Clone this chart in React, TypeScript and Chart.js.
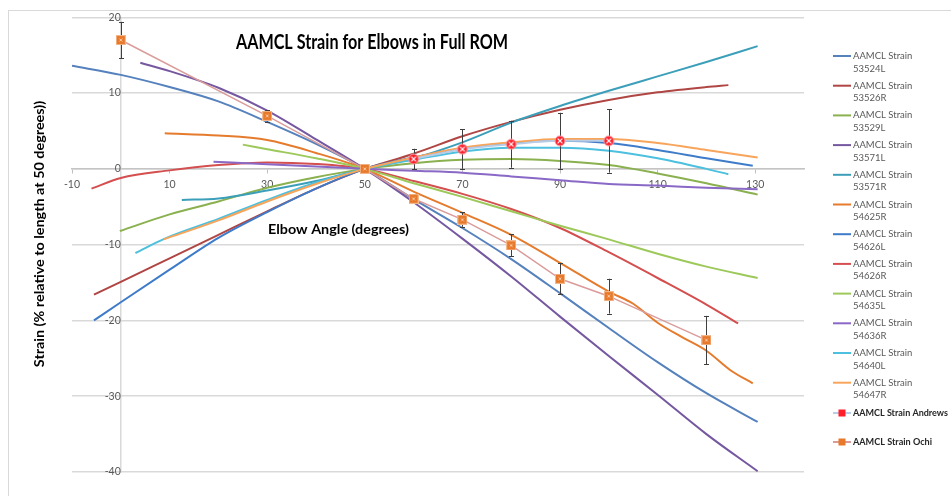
import React, { useEffect, useRef } from 'react';
import { Chart, registerables } from 'chart.js';

Chart.register(...registerables);

// ---- axis ticks ----
const xTicks = [-10, 10, 30, 50, 70, 90, 110, 130];
const yTicks = [-40, -30, -20, -10, 0, 10, 20];

// ---- series (angle in degrees, strain in %) ----
const s53524L_x = [-10, 0, 10, 20, 30, 40, 50, 60, 70, 80, 90, 100, 110, 120, 130.5];
const s53524L_y = [13.6, 12.4, 10.8, 8.9, 6.2, 3.3, 0, -4.0, -7.8, -11.9, -16.4, -21.0, -25.5, -29.6, -33.4];

const s53526R_x = [-5.5, 0, 10, 20, 30, 40, 50, 60, 70, 80, 90, 100, 110, 120, 124.5];
const s53526R_y = [-16.6, -14.9, -11.8, -8.7, -5.6, -2.6, 0, 2.0, 4.3, 6.2, 7.8, 9.1, 10.1, 10.8, 11.05];

const s53529L_x = [-0.2, 10, 20, 30, 40, 50, 60, 70, 80, 90, 100, 110, 120, 130.5];
const s53529L_y = [-8.2, -6.0, -4.3, -2.5, -1.1, 0, 0.75, 1.2, 1.3, 1.05, 0.5, -0.6, -1.9, -3.4];

const s53571L_x = [4, 10, 20, 30, 40, 50, 60, 70, 80, 90, 100, 110, 120, 130.5];
const s53571L_y = [14.0, 12.9, 10.7, 7.7, 3.9, 0, -4.4, -9.2, -14.2, -19.5, -24.7, -29.8, -35.0, -39.9];

const s53571R_x = [12.5, 20, 30, 40, 50, 60, 70, 80, 90, 100, 110, 120, 130.5];
const s53571R_y = [-4.1, -3.9, -2.85, -1.6, 0, 1.4, 3.5, 6.1, 8.3, 10.3, 12.2, 14.1, 16.2];

const s54625R_x = [9, 20, 30, 40, 50, 60, 70, 80, 90, 100, 105, 110, 115, 120, 125, 129.5];
const s54625R_y = [4.7, 4.4, 3.8, 2.1, 0, -3.0, -5.8, -8.7, -12.4, -16.2, -17.8, -20.3, -22.2, -24.0, -26.6, -28.3];

const s54626L_x = [-5.5, 0, 10, 20, 30, 40, 50, 60, 70, 80, 90, 100, 110, 120, 129.5];
const s54626L_y = [-20, -17.6, -13.3, -9.1, -5.7, -2.6, 0, 1.5, 2.7, 3.4, 3.7, 3.4, 2.5, 1.4, 0.4];

const s54626R_x = [-6, 0, 10, 20, 30, 40, 50, 60, 70, 80, 90, 100, 110, 120, 126.5];
const s54626R_y = [-2.6, -1.2, -0.2, 0.5, 0.85, 0.65, 0, -1.6, -3.3, -5.3, -7.8, -11.0, -14.4, -17.9, -20.4];

const s54635L_x = [25, 30, 40, 50, 60, 70, 80, 90, 100, 110, 120, 130.5];
const s54635L_y = [3.2, 2.6, 1.4, 0, -1.9, -3.7, -5.6, -7.5, -9.3, -11.2, -12.9, -14.4];

const s54636R_x = [19, 30, 40, 50, 60, 70, 80, 90, 100, 110, 120, 130.5];
const s54636R_y = [0.95, 0.6, 0.3, 0, -0.25, -0.5, -1.0, -1.5, -2.0, -2.2, -2.5, -2.7];

const s54640L_x = [3, 9, 20, 30, 40, 50, 60, 70, 80, 90, 100, 110, 120, 124.5];
const s54640L_y = [-11.1, -9.2, -6.6, -4.1, -1.8, 0, 1.2, 2.3, 2.8, 2.8, 2.4, 1.4, 0, -0.7];

const s54647R_x = [8.8, 20, 30, 40, 50, 60, 70, 80, 90, 100, 110, 120, 130.5];
const s54647R_y = [-9.3, -6.8, -4.3, -2.0, 0, 1.5, 2.8, 3.5, 3.95, 3.95, 3.4, 2.5, 1.5];

const andrews_x = [60, 70, 80, 90, 100];
const andrews_y = [1.3, 2.6, 3.25, 3.7, 3.7];
const andrews_err = [1.35, 2.6, 3.1, 3.7, 4.2];

const ochi_x = [0, 30, 50, 60, 70, 80, 90, 100, 120];
const ochi_y = [17, 7, 0, -3.95, -6.7, -10.1, -14.5, -16.8, -22.6];
const ochi_err = [2.4, 0.75, 0, 0.4, 0.95, 1.45, 2.05, 2.3, 3.2];

const seriesNames = ['53524L', '53526R', '53529L', '53571L', '53571R', '54625R', '54626L', '54626R', '54635L', '54636R', '54640L', '54647R'];
const seriesX = [s53524L_x, s53526R_x, s53529L_x, s53571L_x, s53571R_x, s54625R_x, s54626L_x, s54626R_x, s54635L_x, s54636R_x, s54640L_x, s54647R_x];
const seriesY = [s53524L_y, s53526R_y, s53529L_y, s53571L_y, s53571R_y, s54625R_y, s54626L_y, s54626R_y, s54635L_y, s54636R_y, s54640L_y, s54647R_y];
const seriesColors = ['#5581BD', '#B04644', '#8AB04F', '#7558A0', '#3C9FBA', '#E57B2D', '#3E7CC9', '#D44F4F', '#9DC95B', '#8A68C6', '#4CC0DE', '#F8A55C'];

const andrewsLine = '#B8CCE8';
const ochiLine = '#DA9C9B';

const FONT = 'Lato, "Open Sans", "DejaVu Sans", sans-serif';

function pts(xs: number[], ys: number[]) {
  return xs.map((x, i) => ({ x, y: ys[i] }));
}

function makeAndrewsMarker() {
  const c = document.createElement('canvas');
  c.width = 12; c.height = 12;
  const g = c.getContext('2d')!;
  g.fillStyle = '#FF1E2A';
  g.strokeStyle = '#F5A3A8';
  g.lineWidth = 1;
  g.beginPath();
  g.arc(6, 6, 5, 0, Math.PI * 2);
  g.fill();
  g.stroke();
  g.strokeStyle = '#FFFFFF';
  g.lineWidth = 1.2;
  g.beginPath();
  g.moveTo(3.6, 3.6); g.lineTo(8.4, 8.4);
  g.moveTo(8.4, 3.6); g.lineTo(3.6, 8.4);
  g.stroke();
  return c;
}

function makeOchiMarker() {
  const c = document.createElement('canvas');
  c.width = 10; c.height = 10;
  const g = c.getContext('2d')!;
  g.fillStyle = '#E8792B';
  g.fillRect(0.5, 0.5, 9, 9);
  g.strokeStyle = '#F2B78A';
  g.lineWidth = 1;
  g.strokeRect(0.5, 0.5, 9, 9);
  g.strokeStyle = '#F8D2B2';
  g.lineWidth = 0.9;
  g.beginPath();
  g.moveTo(3.5, 3.5); g.lineTo(6.5, 6.5);
  g.moveTo(6.5, 3.5); g.lineTo(3.5, 6.5);
  g.stroke();
  return c;
}

function fitText(ctx: CanvasRenderingContext2D, text: string, x: number, y: number, font: string, width: number, color: string, rotate = 0, align: CanvasTextAlign = 'center') {
  ctx.save();
  ctx.font = font;
  const w = ctx.measureText(text).width;
  let s = width / w;
  if (s > 1.15) s = 1.15;
  if (s < 0.7) s = 0.7;
  ctx.translate(x, y);
  if (rotate) ctx.rotate(rotate);
  ctx.scale(s, 1);
  ctx.fillStyle = color;
  ctx.textAlign = align;
  ctx.textBaseline = 'middle';
  ctx.fillText(text, 0, 0);
  ctx.restore();
}

export default function App() {
  const ref = useRef<HTMLCanvasElement | null>(null);

  useEffect(() => {
    if (!ref.current) return;
    const andrewsMarker = makeAndrewsMarker();
    const ochiMarker = makeOchiMarker();

    const datasets: any[] = seriesNames.map((name, i) => ({
      label: 'AAMCL Strain ' + name,
      data: pts(seriesX[i], seriesY[i]),
      borderColor: seriesColors[i],
      backgroundColor: seriesColors[i],
      borderWidth: 2,
      pointRadius: 0,
      cubicInterpolationMode: 'monotone',
      fill: false,
      order: 20 - i,
    }));
    datasets.push({
      label: 'AAMCL Strain Andrews',
      data: pts(andrews_x, andrews_y),
      borderColor: andrewsLine,
      backgroundColor: '#FF1E2A',
      borderWidth: 2,
      pointStyle: andrewsMarker,
      pointRadius: 6,
      cubicInterpolationMode: 'monotone',
      fill: false,
      order: 1,
    });
    datasets.push({
      label: 'AAMCL Strain Ochi',
      data: pts(ochi_x, ochi_y),
      borderColor: ochiLine,
      backgroundColor: '#E8792B',
      borderWidth: 1.5,
      pointStyle: ochiMarker,
      pointRadius: 5,
      tension: 0,
      fill: false,
      order: 0,
    });

    const errs: Record<number, number[]> = { 12: andrews_err, 13: ochi_err };

    const drawPlugin = {
      id: 'excelExtras',
      beforeDraw(chart: any) {
        const ctx = chart.ctx as CanvasRenderingContext2D;
        ctx.save();
        ctx.fillStyle = '#FFFFFF';
        ctx.fillRect(0, 0, chart.width, chart.height);
        ctx.strokeStyle = '#D9D9D9';
        ctx.lineWidth = 1;
        ctx.strokeRect(8.5, 10.5, chart.width + 20, chart.height + 20);
        ctx.restore();
      },
      beforeDatasetDraw(chart: any, args: any) {
        const e = errs[args.index];
        if (!e) return;
        const ds = chart.data.datasets[args.index];
        const xs = chart.scales.x;
        const ys = chart.scales.y;
        const ctx = chart.ctx as CanvasRenderingContext2D;
        ctx.save();
        ctx.strokeStyle = '#3F3F3F';
        ctx.lineWidth = 1;
        ds.data.forEach((p: any, i: number) => {
          if (!e[i]) return;
          const px = Math.round(xs.getPixelForValue(p.x)) + 0.5;
          const top = ys.getPixelForValue(p.y + e[i]);
          const bot = ys.getPixelForValue(p.y - e[i]);
          ctx.beginPath();
          ctx.moveTo(px, top); ctx.lineTo(px, bot);
          ctx.moveTo(px - 2.5, Math.round(top) + 0.5); ctx.lineTo(px + 2.5, Math.round(top) + 0.5);
          ctx.moveTo(px - 2.5, Math.round(bot) + 0.5); ctx.lineTo(px + 2.5, Math.round(bot) + 0.5);
          ctx.stroke();
        });
        ctx.restore();
      },
      afterDraw(chart: any) {
        const ctx = chart.ctx as CanvasRenderingContext2D;
        fitText(ctx, 'AAMCL Strain for Elbows in Full ROM', 372, 43, 'bold 20px ' + FONT, 272, '#000000');
        fitText(ctx, 'Elbow Angle (degrees)', 338.5, 230, 'bold 12.5px ' + FONT, 141, '#000000');
        fitText(ctx, 'Strain (% relative to length at 50 degrees))', 40, 234, 'bold 12.5px ' + FONT, 267, '#000000', -Math.PI / 2);

        // legend
        ctx.save();
        const step = 29.7;
        for (let i = 0; i < seriesNames.length; i++) {
          const y = 56 + i * step;
          ctx.strokeStyle = seriesColors[i];
          ctx.lineWidth = 2;
          ctx.beginPath();
          ctx.moveTo(833, y); ctx.lineTo(851, y);
          ctx.stroke();
          ctx.fillStyle = '#595959';
          ctx.font = '9.5px ' + FONT;
          ctx.textAlign = 'left';
          ctx.textBaseline = 'middle';
          ctx.fillText('AAMCL Strain', 853, y);
          ctx.fillText(seriesNames[i], 853, y + 12.5);
        }
        const special = [
          { y: 413, line: andrewsLine, fill: '#FF1E2A', text: 'AAMCL Strain Andrews', w: 95 },
          { y: 442, line: ochiLine, fill: '#E8792B', text: 'AAMCL Strain Ochi', w: 79 },
        ];
        special.forEach((s) => {
          ctx.strokeStyle = s.line;
          ctx.lineWidth = 2;
          ctx.beginPath();
          ctx.moveTo(833, s.y); ctx.lineTo(851, s.y);
          ctx.stroke();
          ctx.fillStyle = s.fill;
          ctx.fillRect(838.5, s.y - 3.5, 7, 7);
          fitText(ctx, s.text, 853, s.y, 'bold 9.5px ' + FONT, s.w, '#262626', 0, 'left');
        });
        ctx.restore();
      },
    };

    const chart = new Chart(ref.current, {
      type: 'line',
      data: { datasets },
      options: {
        animation: false,
        responsive: false,
        maintainAspectRatio: false,
        layout: { padding: { left: 72, top: 17, right: 147, bottom: 24 } },
        plugins: {
          legend: { display: false },
          tooltip: { enabled: false },
          title: { display: false },
        },
        scales: {
          x: {
            type: 'linear',
            min: -10,
            max: 140,
            position: { y: 0 } as any,
            afterBuildTicks: (s: any) => { s.ticks = xTicks.map((v) => ({ value: v })); },
            afterFit: (s: any) => { s.height = 0; },
            grid: { drawOnChartArea: false, drawTicks: true, tickLength: 4, color: '#BFBFBF', lineWidth: 1 },
            border: { display: true, color: '#C4C4C4', width: 1.5 },
            ticks: { padding: 5, color: '#595959', font: { family: FONT, size: 10.5 }, maxRotation: 0, autoSkip: false },
          },
          y: {
            type: 'linear',
            min: -40,
            max: 20,
            position: { x: 0 } as any,
            afterBuildTicks: (s: any) => { s.ticks = yTicks.map((v) => ({ value: v })); },
            afterFit: (s: any) => { s.width = 0; },
            grid: { color: '#D9D9D9', lineWidth: 1.5, drawTicks: false },
            border: { display: true, color: '#D9D9D9', width: 1.5 },
            ticks: { padding: 11, color: '#595959', font: { family: FONT, size: 10.5 } },
          },
        },
      } as any,
      plugins: [drawPlugin],
    });

    return () => chart.destroy();
  }, []);

  return (
    <div style={{ position: 'fixed', left: 0, top: 0, width: 951, height: 496, background: '#fff' }}>
      <canvas ref={ref} width={951} height={496} style={{ display: 'block', width: 951, height: 496 }} />
    </div>
  );
}
